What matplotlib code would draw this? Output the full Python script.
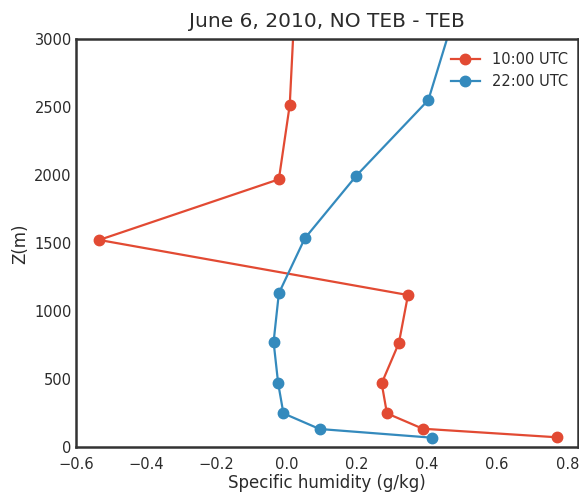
import matplotlib

matplotlib.use("Agg")
import matplotlib.pyplot as plt

# heights (m) and specific humidity differences (g/kg), NO TEB - TEB
z_10 = [75, 138, 251, 472, 768, 1121, 1526, 1972, 2518, 3500]
q_10 = [0.771, 0.388, 0.286, 0.271, 0.320, 0.346, -0.534, -0.022, 0.009, 0.028]

z_22 = [72, 136, 251, 472, 776, 1134, 1538, 1999, 2555, 3500]
q_22 = [0.415, 0.094, -0.009, -0.024, -0.037, -0.022, 0.052, 0.199, 0.404, 0.516]

labels = ["10:00 UTC", "22:00 UTC"]
colors = ["#E24A33", "#348ABD"]
text_color = "#2b2b2b"

fig = plt.figure(figsize=(5.79, 4.93), dpi=100)
ax = fig.add_axes([0.1313, 0.0923, 0.8667, 0.8276])

ax.plot(q_10, z_10, color=colors[0], marker="o", markersize=7.5, linewidth=1.6, label=labels[0])
ax.plot(q_22, z_22, color=colors[1], marker="o", markersize=7.5, linewidth=1.6, label=labels[1])

ax.set_xlim(-0.6, 0.83)
ax.set_ylim(0, 3000)
ax.set_xticks([-0.6, -0.4, -0.2, 0.0, 0.2, 0.4, 0.6, 0.8])
ax.set_yticks([0, 500, 1000, 1500, 2000, 2500, 3000])
ax.tick_params(length=0, labelsize=10.5, colors=text_color)
ax.tick_params(axis="x", pad=7)
ax.tick_params(axis="y", pad=3)
for s in ax.spines.values():
    s.set_color("#333333")
    s.set_linewidth(1.8)

ax.set_title("June 6, 2010, NO TEB - TEB", fontsize=14.5, color=text_color, pad=9)
ax.set_xlabel("Specific humidity (g/kg)", fontsize=12, color=text_color, labelpad=1)
ax.set_ylabel("Z(m)", fontsize=12, color=text_color, labelpad=4)
ax.legend(loc="upper right", bbox_to_anchor=(1.0, 0.995), frameon=False, fontsize=10.5,
          labelcolor=text_color, handlelength=2.0, borderaxespad=0.3)

fig.savefig("out.png", dpi=100)
